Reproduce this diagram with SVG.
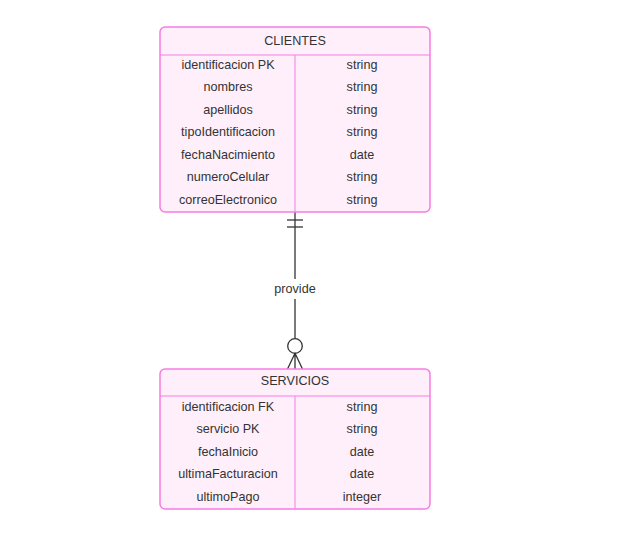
<svg xmlns="http://www.w3.org/2000/svg" width="641" height="546" viewBox="0 0 641 546">
<style>
.box{fill:#feeffa;stroke:#f77ce2;stroke-width:1.5}
.ln{stroke:#f77ce2;stroke-width:1}
text{font-family:"Liberation Sans",Arial,sans-serif;font-size:12.6px;fill:#333;text-anchor:middle}
.c{fill:none;stroke:#333;stroke-width:1.3}
</style>
<rect width="641" height="546" fill="#fff"/>
<g id="connectors">
<line class="c" x1="295" y1="212" x2="295" y2="279"/>
<line class="c" x1="295" y1="299" x2="295" y2="338.5"/>
<line class="c" x1="287" y1="220" x2="303" y2="220"/>
<line class="c" x1="287" y1="227" x2="303" y2="227"/>
<circle class="c" cx="295" cy="346" r="7.3" fill="#fff"/>
<path class="c" d="M287.5 369 L295 353.3 L302.5 369 M295 353.3 L295 369"/>
<text x="295" y="293">provide</text>
</g>
<g id="clientes">
<rect class="box" x="160" y="27" width="270" height="185" rx="5"/>
<line class="ln" x1="160" y1="55" x2="430" y2="55"/>
<line class="ln" x1="295" y1="55" x2="295" y2="212"/>
<text x="295" y="44.5">CLIENTES</text>
<text x="228" y="68.5">identificacion PK</text><text x="362" y="68.5">string</text>
<text x="228" y="91">nombres</text><text x="362" y="91">string</text>
<text x="228" y="113.5">apellidos</text><text x="362" y="113.5">string</text>
<text x="228" y="136">tipoIdentificacion</text><text x="362" y="136">string</text>
<text x="228" y="158.5">fechaNacimiento</text><text x="362" y="158.5">date</text>
<text x="228" y="181">numeroCelular</text><text x="362" y="181">string</text>
<text x="228" y="203.5">correoElectronico</text><text x="362" y="203.5">string</text>
</g>
<g id="servicios">
<rect class="box" x="160" y="369" width="270" height="140" rx="5"/>
<line class="ln" x1="160" y1="396" x2="430" y2="396"/>
<line class="ln" x1="295" y1="396" x2="295" y2="509"/>
<text x="295" y="385">SERVICIOS</text>
<text x="228" y="410.5">identificacion FK</text><text x="362" y="410.5">string</text>
<text x="228" y="433">servicio PK</text><text x="362" y="433">string</text>
<text x="228" y="455.5">fechaInicio</text><text x="362" y="455.5">date</text>
<text x="228" y="478">ultimaFacturacion</text><text x="362" y="478">date</text>
<text x="228" y="500.5">ultimoPago</text><text x="362" y="500.5">integer</text>
</g>
</svg>
